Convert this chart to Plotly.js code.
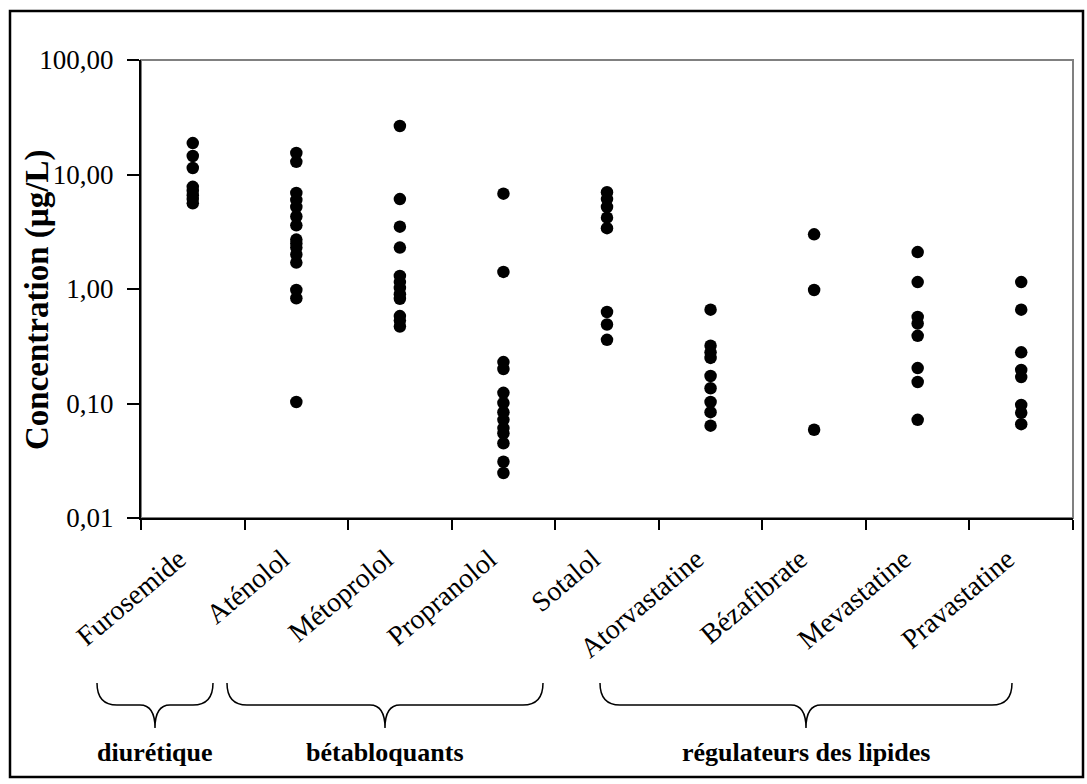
<!DOCTYPE html>
<html>
<head>
<meta charset="utf-8">
<script src="https://cdn.plot.ly/plotly-3.0.1.min.js"></script>
<style>html,body{margin:0;padding:0;background:#fff;}#chart{width:1087px;height:784px;}</style>
</head>
<body>
<div id="chart"></div>
<script>
// ---- data ----
const categories = ['Furosemide','Aténolol','Métoprolol','Propranolol','Sotalol','Atorvastatine','Bézafibrate','Mevastatine','Pravastatine'];
const furosemide    = [18.8, 14.5, 11.4, 7.8, 7.2, 6.6, 6.1, 5.6];
const atenolol      = [15.4, 12.9, 6.9, 6.0, 5.2, 4.3, 3.6, 2.7, 2.5, 2.3, 2.0, 1.7, 0.98, 0.83, 0.103];
const metoprolol    = [26.5, 6.1, 3.5, 2.3, 1.3, 1.15, 1.02, 0.90, 0.82, 0.58, 0.53, 0.47];
const propranolol   = [6.8, 1.41, 0.23, 0.20, 0.124, 0.101, 0.084, 0.072, 0.061, 0.055, 0.045, 0.031, 0.0247];
const sotalol       = [7.0, 6.1, 5.2, 4.2, 3.4, 0.63, 0.49, 0.36];
const atorvastatine = [0.66, 0.32, 0.28, 0.25, 0.174, 0.136, 0.103, 0.084, 0.064];
const bezafibrate   = [3.0, 0.98, 0.059];
const mevastatine   = [2.1, 1.15, 0.57, 0.50, 0.39, 0.204, 0.154, 0.072];
const pravastatine  = [1.15, 0.66, 0.28, 0.196, 0.170, 0.097, 0.083, 0.066];
const yTickVals  = [0.01, 0.1, 1, 10, 100];
const yTickText  = ['0,01', '0,10', '1,00', '10,00', '100,00'];
const yTitle = 'Concentration (µg/L)';
const groups = ['diurétique', 'bétabloquants', 'régulateurs des lipides'];

// ---- build trace ----
const seriesList = [furosemide, atenolol, metoprolol, propranolol, sotalol, atorvastatine, bezafibrate, mevastatine, pravastatine];
const xs = [], ys = [];
seriesList.forEach((vals, i) => vals.forEach(v => { xs.push(categories[i]); ys.push(v); }));

const FONT = 'Liberation Serif, Times New Roman, serif';

// plot-area geometry (pixels) and helpers for decoration placement
const L = 141, R = 1073, T = 60, B = 518;
const px = x => (x - L) / (R - L);
const py = y => (B - y) / (B - T);

// brace decorations (pixel extents, style only)
const braceSpans = [[97, 213], [227, 543], [600, 1012]];
const braceTop = 683, braceMid = 705, braceTip = 728, labelY = 752;
function bracePath(a, b) {
  const c = (a + b) / 2, r = 20, m = 15;
  const P = (x, y) => px(x).toFixed(5) + ',' + py(y).toFixed(5);
  return 'M' + P(a, braceTop) +
    ' Q' + P(a, braceMid) + ' ' + P(a + r, braceMid) +
    ' L' + P(c - m, braceMid) +
    ' Q' + P(c, braceMid) + ' ' + P(c, braceTip) +
    ' Q' + P(c, braceMid) + ' ' + P(c + m, braceMid) +
    ' L' + P(b - r, braceMid) +
    ' Q' + P(b, braceMid) + ' ' + P(b, braceTop);
}

const shapes = [
  {type: 'rect', xref: 'paper', yref: 'paper', x0: 0, x1: 1, y0: 0, y1: 1,
   line: {color: '#808080', width: 2}, layer: 'below'},
  {type: 'rect', xref: 'paper', yref: 'paper', x0: px(10), x1: px(1083), y0: py(11), y1: py(777),
   line: {color: '#000', width: 2.5}}
];
braceSpans.forEach(s => shapes.push({type: 'path', xref: 'paper', yref: 'paper', path: bracePath(s[0], s[1]),
  line: {color: '#000', width: 1.5}}));

const annotations = groups.map((g, i) => ({
  xref: 'paper', yref: 'paper', x: px((braceSpans[i][0] + braceSpans[i][1]) / 2), y: py(labelY),
  text: '<b>' + g + '</b>', showarrow: false, xanchor: 'center', yanchor: 'middle',
  font: {family: FONT, size: 26, color: '#000'}
}));
annotations.push({
  xref: 'paper', yref: 'paper', x: px(37), y: py(300), text: '<b>' + yTitle + '</b>', textangle: -90,
  showarrow: false, xanchor: 'center', yanchor: 'middle', font: {family: FONT, size: 33, color: '#000'}
});

const trace = {
  type: 'scatter', mode: 'markers', x: xs, y: ys,
  marker: {color: '#000', size: 12.5, line: {width: 0}},
  hoverinfo: 'x+y', showlegend: false, cliponaxis: false
};

const layout = {
  width: 1087, height: 784,
  margin: {l: 141, r: 14, t: 60, b: 266},
  paper_bgcolor: '#fff', plot_bgcolor: '#fff',
  font: {family: FONT, color: '#000'},
  showlegend: false,
  xaxis: {
    type: 'category', categoryorder: 'array', categoryarray: categories,
    range: [-0.5, 8.5], showgrid: false, zeroline: false,
    showline: true, linecolor: '#000', linewidth: 2,
    ticks: 'outside', tickson: 'boundaries', ticklen: 10, tickwidth: 2, tickcolor: '#000',
    tickangle: -40, tickfont: {family: FONT, size: 28, color: '#000'},
    ticklabelshift: -14, ticklabelstandoff: 12
  },
  yaxis: {
    type: 'log', range: [-2, 2], showgrid: false, zeroline: false,
    showline: true, linecolor: '#000', linewidth: 2,
    ticks: 'outside', ticklen: 12, tickwidth: 2, tickcolor: '#000',
    tickvals: yTickVals, ticktext: yTickText,
    tickfont: {family: FONT, size: 27, color: '#000'}, ticklabelstandoff: 8
  },
  shapes: shapes,
  annotations: annotations
};

Plotly.newPlot('chart', [trace], layout, {displayModeBar: false, staticPlot: true});
</script>
</body>
</html>
